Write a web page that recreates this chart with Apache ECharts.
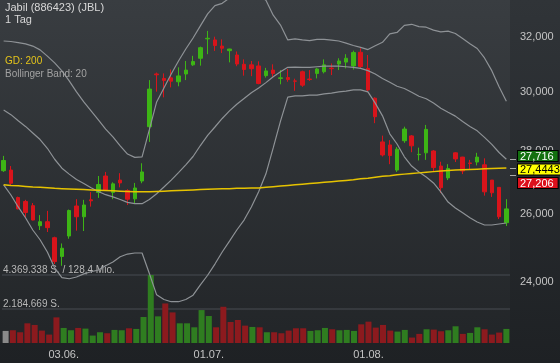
<!DOCTYPE html>
<html>
<head>
<meta charset="utf-8">
<script src="https://cdn.jsdelivr.net/npm/echarts@6/dist/echarts.min.js"></script>
<style>
html,body{margin:0;padding:0;background:#25292d;}
#chart{width:560px;height:363px;}
</style>
</head>
<body>
<div id="chart"></div>
<script>
// ---------- data ----------
const dates = ['21.05.','22.05.','23.05.','24.05.','28.05.','29.05.','30.05.','31.05.','03.06.','04.06.',
  '05.06.','06.06.','07.06.','10.06.','11.06.','12.06.','13.06.','14.06.','17.06.','18.06.',
  '19.06.','20.06.','21.06.','24.06.','25.06.','26.06.','27.06.','28.06.','01.07.','02.07.',
  '03.07.','05.07.','08.07.','09.07.','10.07.','11.07.','12.07.','15.07.','16.07.','17.07.',
  '18.07.','19.07.','22.07.','23.07.','24.07.','25.07.','26.07.','29.07.','30.07.','31.07.',
  '01.08.','02.08.','05.08.','06.08.','07.08.','08.08.','09.08.','12.08.','13.08.','14.08.',
  '15.08.','16.08.','19.08.','20.08.','21.08.','22.08.','23.08.','26.08.','27.08.','28.08.'];

const openP = [27.35,27.37,26.50,26.38,26.25,25.64,25.76,25.28,24.73,25.33,
  26.24,25.91,26.43,26.66,27.18,26.66,27.05,26.72,26.46,27.02,
  28.80,30.64,30.48,30.50,30.36,30.64,30.97,31.21,31.93,31.89,
  31.66,31.49,31.33,30.99,30.97,30.93,30.58,30.78,30.48,30.51,
  30.39,30.72,30.46,30.66,30.72,30.85,31.00,31.07,30.93,31.43,
  30.84,29.78,28.29,28.19,27.37,28.33,28.49,27.87,27.93,27.99,
  27.50,27.12,27.93,27.79,27.60,27.63,27.54,27.05,26.82,25.73];
const closeP = [27.68,26.95,26.15,26.04,25.81,25.76,25.58,24.58,24.97,26.10,
  25.91,26.27,26.40,26.91,26.74,26.93,26.96,26.45,26.80,27.31,
  30.10,30.61,30.41,30.38,30.57,30.78,31.09,31.60,31.95,31.68,
  31.58,31.55,31.00,30.80,30.83,30.30,30.75,30.66,30.50,30.44,
  30.38,30.24,30.44,30.82,30.97,30.83,31.11,31.21,31.42,30.91,
  30.07,29.14,27.86,27.84,28.05,28.72,28.16,27.88,28.71,27.45,
  26.81,27.42,27.73,27.34,27.58,27.79,26.68,26.65,25.91,26.15];
const lowP = [27.31,26.90,26.14,25.89,25.80,25.51,25.45,24.51,24.46,25.25,
  25.49,25.48,26.22,26.49,26.71,26.45,26.82,26.27,26.30,26.95,
  28.29,30.01,29.81,30.16,30.20,30.42,30.93,30.94,31.36,31.48,
  31.40,31.06,30.92,30.58,30.56,30.27,30.51,30.54,30.27,30.36,
  30.04,30.18,30.39,30.48,30.66,30.60,30.78,30.84,30.80,30.84,
  30.01,28.92,27.81,27.56,27.31,28.26,27.95,27.68,27.70,27.34,
  26.64,27.05,27.63,27.24,27.39,27.52,26.56,26.52,25.84,25.63];
const highP = [27.83,27.50,26.53,26.43,26.33,25.96,26.09,25.31,25.11,26.13,
  26.45,26.43,26.67,27.18,27.31,26.98,27.27,26.76,26.96,27.59,
  30.42,30.69,30.66,30.80,30.88,31.11,31.30,31.64,32.23,32.01,
  31.91,31.56,31.46,31.17,31.11,31.10,30.86,30.99,30.78,30.82,
  30.47,30.76,30.78,30.86,31.17,31.02,31.21,31.36,31.49,31.58,
  31.33,29.81,28.50,28.35,28.12,28.80,28.52,28.10,28.86,28.02,
  27.64,27.56,27.95,27.80,27.70,27.93,27.75,27.05,26.83,26.45];

const volume = [776000,819000,691000,1265000,1159000,797000,542000,1648000,967000,819000,
  967000,925000,478000,691000,627000,840000,819000,946000,904000,1669000,
  4369338,1712000,2541000,1967000,1265000,1265000,1010000,2116000,1733000,1010000,
  2328000,1350000,1478000,1116000,1031000,1010000,691000,691000,627000,797000,
  946000,946000,776000,819000,967000,882000,819000,840000,776000,1201000,
  1371000,989000,1159000,797000,734000,840000,351000,585000,882000,861000,
  755000,819000,1074000,585000,648000,1010000,882000,542000,670000,904000];

const bbUpper = [31.85,31.83,31.79,31.74,31.66,31.52,31.29,31.04,30.75,30.39,
  30.00,29.65,29.34,29.03,28.72,28.46,28.16,27.89,27.78,27.80,
  28.70,29.65,30.14,30.64,31.11,31.55,31.96,32.42,32.88,33.20,
  33.29,33.50,33.63,33.72,33.73,33.60,33.41,32.83,32.45,31.89,
  31.93,31.89,31.86,31.91,31.91,31.88,31.85,31.77,31.68,31.61,
  31.53,31.67,31.80,32.12,32.17,32.44,32.48,32.39,32.37,32.26,
  32.19,32.22,32.13,31.94,31.75,31.57,31.22,30.76,30.18,29.67];
const bbMiddle = [29.37,29.21,29.00,28.81,28.59,28.37,28.08,27.72,27.43,27.24,
  27.07,26.94,26.81,26.69,26.59,26.52,26.44,26.35,26.31,26.31,
  26.44,26.62,26.83,27.05,27.29,27.54,27.81,28.17,28.51,28.79,
  29.08,29.34,29.57,29.77,29.97,30.14,30.33,30.54,30.72,30.88,
  30.89,30.88,30.88,30.90,30.92,30.92,30.92,30.90,30.88,30.84,
  30.76,30.64,30.48,30.34,30.20,30.12,29.99,29.85,29.76,29.61,
  29.43,29.29,29.16,28.98,28.81,28.66,28.44,28.21,27.94,27.72];
const bbLower = [26.90,26.58,26.21,25.88,25.51,25.22,24.86,24.40,24.12,24.09,
  24.14,24.23,24.29,24.34,24.46,24.57,24.72,24.80,24.83,24.83,
  24.24,23.64,23.51,23.45,23.45,23.51,23.63,23.92,24.19,24.51,
  24.86,25.18,25.51,25.81,26.21,26.68,27.25,28.09,28.99,29.82,
  29.86,29.86,29.89,29.89,29.93,29.96,30.00,30.03,30.07,30.07,
  30.00,29.61,29.17,28.56,28.22,27.80,27.50,27.31,27.15,26.96,
  26.68,26.36,26.18,26.03,25.88,25.75,25.66,25.66,25.69,25.72];
const gd200 = [26.90,26.88,26.87,26.85,26.83,26.82,26.81,26.79,26.78,26.77,
  26.76,26.75,26.74,26.73,26.72,26.71,26.70,26.69,26.68,26.68,
  26.68,26.69,26.70,26.71,26.72,26.73,26.74,26.75,26.76,26.77,
  26.78,26.78,26.79,26.79,26.80,26.80,26.82,26.84,26.86,26.88,
  26.90,26.92,26.94,26.96,26.98,27.00,27.02,27.04,27.06,27.09,
  27.11,27.14,27.17,27.19,27.22,27.24,27.26,27.28,27.30,27.32,
  27.34,27.36,27.37,27.38,27.39,27.40,27.41,27.42,27.43,27.44];

const priceTicks = [24, 26, 28, 30, 32];
const dateTicks = ['03.06.', '01.07.', '01.08.'];
const badgeValues = [27.716, 27.4443, 27.206];
const maxTurnoverMio = 128.4;
const PRICE_MIN = 22.34, PRICE_MAX = 33.42;

// ---------- helpers ----------
const L = Math.log;
const fmtPrice = v => (Math.round(v * 1000) / 1000).toFixed(3).replace('.', ',');
const fmtShares = v => String(Math.round(v)).replace(/\B(?=(\d{3})+(?!\d))/g, '.');
const volMax = Math.max(...volume);

const UP = '#3db515', DOWN = '#d8141b';
const VUP = '#2f7d20', VDOWN = '#8c1a1e', VNEUTRAL = '#8a8a8a';
const BAND = '#8e9296';
const FONT = 'Liberation Sans, Arial, sans-serif';

const candleData = dates.map((d, i) => [L(openP[i]), L(closeP[i]), L(lowP[i]), L(highP[i])]);
const volData = volume.map((v, i) => ({
  value: v,
  itemStyle: { color: i === 0 ? VNEUTRAL : (closeP[i] >= closeP[i - 1] ? VUP : VDOWN) }
}));

const badgeStyles = [
  { backgroundColor: '#13700f', color: '#ffffff', verticalAlign: 'bottom' },
  { backgroundColor: '#ffff00', color: '#000000', verticalAlign: 'middle' },
  { backgroundColor: '#dc101c', color: '#ffffff', verticalAlign: 'top' }
];

const chart = echarts.init(document.getElementById('chart'), null, { renderer: 'canvas' });
chart.setOption({
  animation: false,
  backgroundColor: new echarts.graphic.LinearGradient(0, 0, 0, 1, [
    { offset: 0, color: '#303438' }, { offset: 1, color: '#1e2124' }
  ]),
  textStyle: { fontFamily: FONT },
  title: [
    { text: 'Jabil (886423) (JBL)', subtext: '1 Tag', left: 5, top: 2, padding: 0, itemGap: 1,
      textStyle: { fontSize: 11, fontWeight: 'normal', color: '#d8d8d8', fontFamily: FONT },
      subtextStyle: { fontSize: 11, color: '#d8d8d8', fontFamily: FONT } },
    { text: 'GD: 200', left: 5, top: 56, padding: 0,
      textStyle: { fontSize: 10, fontWeight: 'normal', color: '#e4c41a', fontFamily: FONT } },
    { text: 'Bollinger Band: 20', left: 5, top: 69, padding: 0,
      textStyle: { fontSize: 10, fontWeight: 'normal', color: '#a2a2a2', fontFamily: FONT } }
  ],
  grid: [
    { left: 0, right: 50, top: 0, height: 343, show: true, borderWidth: 0,
      backgroundColor: new echarts.graphic.LinearGradient(0, 0, 0, 1, [
        { offset: 0, color: '#393d41' }, { offset: 1, color: '#222528' }
      ]) },
    { left: 0, right: 50, top: 275, height: 68 }
  ],
  xAxis: [
    { type: 'category', gridIndex: 0, data: dates, boundaryGap: true, show: false },
    { type: 'category', gridIndex: 1, data: dates, boundaryGap: true,
      axisLine: { show: false }, axisTick: { show: false }, splitLine: { show: false },
      axisLabel: { interval: (i, v) => dateTicks.includes(v), color: '#c4c4c4', fontSize: 11, margin: 6,
        fontFamily: FONT } }
  ],
  yAxis: [
    { type: 'value', gridIndex: 0, position: 'right', min: L(PRICE_MIN), max: L(PRICE_MAX),
      splitLine: { show: false }, axisLine: { show: false },
      axisTick: { show: true, customValues: badgeValues.map(L), length: 6, lineStyle: { color: '#a8a8a8' } },
      axisLabel: { customValues: priceTicks.map(L), formatter: v => fmtPrice(Math.exp(v)),
        color: '#c4c4c4', fontSize: 11, margin: 10, fontFamily: FONT } },
    { type: 'value', gridIndex: 1, position: 'left', min: 0, max: volMax, interval: volMax / 2,
      axisLine: { show: false }, axisTick: { show: false },
      splitLine: { show: true, lineStyle: { color: ['rgba(0,0,0,0)', '#3c4146', '#3c4146'], width: 1.5 } },
      axisLabel: { inside: true, margin: 1, verticalAlign: 'bottom', color: '#b8b8b8', fontSize: 10,
        fontFamily: FONT,
        formatter: v => v <= 0 ? '' : (v >= volMax ? fmtShares(v) + ' S. / ' + String(maxTurnoverMio).replace('.', ',') + ' Mio.' : fmtShares(v) + ' S.') } }
  ],
  series: [
    { name: 'Volumen', type: 'bar', xAxisIndex: 1, yAxisIndex: 1, data: volData, barWidth: 6 },
    { name: 'BB oben', type: 'line', xAxisIndex: 0, yAxisIndex: 0, data: bbUpper.map(L), symbol: 'none',
      lineStyle: { color: BAND, width: 1.2 } },
    { name: 'BB Mitte', type: 'line', xAxisIndex: 0, yAxisIndex: 0, data: bbMiddle.map(L), symbol: 'none',
      lineStyle: { color: BAND, width: 1.2 } },
    { name: 'BB unten', type: 'line', xAxisIndex: 0, yAxisIndex: 0, data: bbLower.map(L), symbol: 'none',
      lineStyle: { color: BAND, width: 1.2 } },
    { name: 'GD: 200', type: 'line', xAxisIndex: 0, yAxisIndex: 0, data: gd200.map(L), symbol: 'none',
      lineStyle: { color: '#e6c300', width: 1.5 },
      markLine: { silent: true, symbol: 'none', animation: false,
        lineStyle: { color: 'rgba(0,0,0,0)', width: 1 },
        data: badgeValues.map((v, i) => ({
          yAxis: L(v),
          label: Object.assign({ show: true, position: 'end', distance: 8, formatter: () => String(v).replace('.', ','),
            fontSize: 11, fontFamily: FONT, lineHeight: 9, padding: [1, 4, 0, 2], borderColor: '#000', borderWidth: 1,
            align: 'left' }, badgeStyles[i])
        })) } },
    { name: 'Jabil', type: 'candlestick', xAxisIndex: 0, yAxisIndex: 0, data: candleData, barWidth: 4,
      itemStyle: { color: UP, color0: DOWN, borderColor: UP, borderColor0: DOWN, borderWidth: 1 } }
  ]
});
</script>
</body>
</html>
